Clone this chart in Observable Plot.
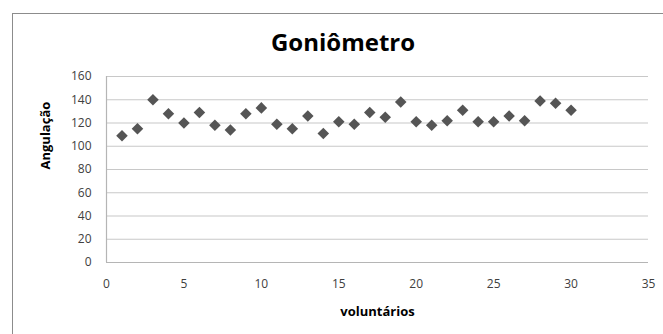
<!DOCTYPE html>
<html>
<head>
<meta charset="utf-8">
<script src="https://cdn.jsdelivr.net/npm/d3@7"></script>
<script src="https://cdn.jsdelivr.net/npm/@observablehq/plot@0.6"></script>
<style>
  html, body { margin: 0; padding: 0; background: #fff; }
  #wrap { position: relative; width: 663px; height: 334px; overflow: hidden; font-family: "Open Sans", sans-serif; }
  #frame { position: absolute; left: 12px; top: 13px; width: 700px; height: 400px; border-left: 1.5px solid #8c8c8c; border-top: 1.5px solid #8c8c8c; box-sizing: border-box; }
  #title { position: absolute; left: 0; top: 27px; width: 686px; text-align: center; font-size: 24px; font-weight: bold; color: #000; line-height: 30px; }
  #chart { position: absolute; left: 0; top: 0; }
</style>
</head>
<body>
<div id="wrap">
  <div id="frame"></div>
  <div id="title">Goniômetro</div>
  <div id="chart"></div>
</div>
<script>
const voluntarios = [1,2,3,4,5,6,7,8,9,10,11,12,13,14,15,16,17,18,19,20,21,22,23,24,25,26,27,28,29,30];
const angulacao = [109,115,140,128,120,129,118,114,128,133,119,115,126,111,121,119,129,125,138,121,118,122,131,121,121,126,122,139,137,131];
const xTicks = [0,5,10,15,20,25,30,35];
const yTicks = [0,20,40,60,80,100,120,140,160];

const data = voluntarios.map((v, i) => ({v, a: angulacao[i]}));

const chart = Plot.plot({
  width: 663,
  height: 334,
  marginLeft: 106,
  marginRight: 15,
  marginTop: 76,
  marginBottom: 72,
  style: { fontFamily: "Open Sans, sans-serif", fontSize: "12px", color: "#404040", background: "transparent" },
  x: { domain: [0, 35], ticks: xTicks, tickSize: 0, tickPadding: 17, label: null },
  y: { domain: [0, 160], ticks: yTicks, tickSize: 0, tickPadding: 15, label: null },
  marks: [
    Plot.gridY(yTicks.filter(d => d > 0), { stroke: "#c8c8c8", strokeOpacity: 1, strokeWidth: 1.2 }),
    Plot.ruleX([0], { stroke: "#b5b5b5", strokeWidth: 1.2 }),
    Plot.ruleY([0], { stroke: "#b5b5b5", strokeWidth: 1.2 }),
    Plot.axisX({ ticks: xTicks, tickSize: 0, tickPadding: 17, label: null, fill: "#404040" }),
    Plot.axisY({ ticks: yTicks, tickSize: 0, tickPadding: 15, label: null, fill: "#404040" }),
    Plot.dot(data, { x: "v", y: "a", symbol: "diamond2", r: 5.2, fill: "#555555", stroke: "none" }),
    Plot.text(["voluntários"], { frameAnchor: "bottom", dy: 53, fontWeight: "bold", fontSize: 13, fill: "#000" }),
    Plot.text(["Angulação"], { frameAnchor: "left", dx: -61, rotate: -90, fontWeight: "bold", fontSize: 13, fill: "#000" })
  ]
});
document.getElementById("chart").appendChild(chart);
</script>
</body>
</html>
